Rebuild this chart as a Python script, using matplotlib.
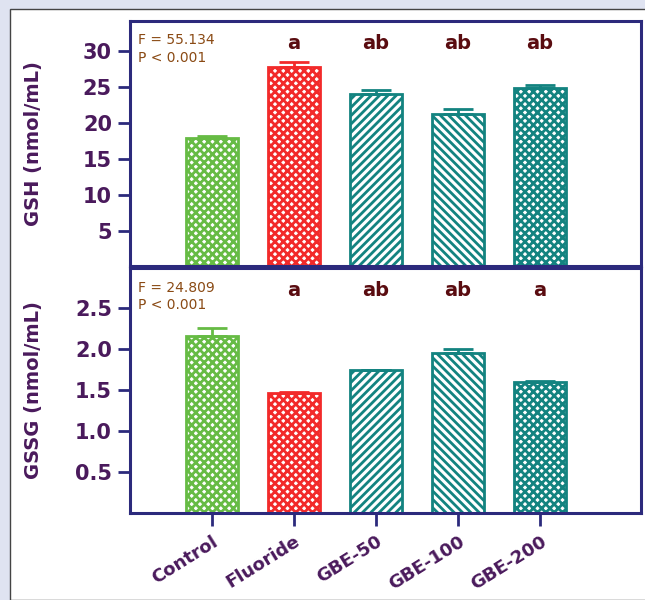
import matplotlib
matplotlib.use("Agg")
import matplotlib.pyplot as plt
from matplotlib.patches import Rectangle
import numpy as np

categories = ["Control", "Fluoride", "GBE-50", "GBE-100", "GBE-200"]
gsh_values = [17.9, 27.7, 24.0, 21.2, 24.8]
gsh_errors = [0.25, 0.7, 0.45, 0.7, 0.45]
gsh_letters = ["", "a", "ab", "ab", "ab"]
gssg_values = [2.16, 1.46, 1.74, 1.95, 1.60]
gssg_errors = [0.10, 0.02, 0.01, 0.05, 0.01]
gssg_letters = ["", "a", "ab", "ab", "a"]
gsh_stats = "F = 55.134\nP < 0.001"
gssg_stats = "F = 24.809\nP < 0.001"
gsh_ticks = [5, 10, 15, 20, 25, 30]
gssg_ticks = [0.5, 1.0, 1.5, 2.0, 2.5]

colors = ["#66bb44", "#f22a2a", "#138380", "#138380", "#138380"]
hatches = ["xxxx", "xxxx", "////", "\\\\\\\\", "xxxx"]

spine_c = "#2c2a7c"
tick_c = "#4a1a5c"
letter_c = "#5a0c10"
stat_c = "#8a4a14"

plt.rcParams["hatch.linewidth"] = 2.0
plt.rcParams["font.family"] = ["DejaVu Sans"]

fig = plt.figure(figsize=(6.45, 6.0), dpi=100, facecolor="#dfe3f1")
bg = Rectangle((10 / 645, 0), 1, 1 - 9 / 600, transform=fig.transFigure,
               facecolor="white", edgecolor="#444444", linewidth=1.0, zorder=-10)
fig.add_artist(bg)

L, R = 130 / 645, 641 / 645
ax1 = fig.add_axes([L, 1 - 266.5 / 600, R - L, (266.5 - 21) / 600])
ax2 = fig.add_axes([L, 1 - 513 / 600, R - L, (513 - 268) / 600])
ax1.set_zorder(1)
ax2.set_zorder(1)

x = np.arange(len(categories))


def draw(ax, vals, errs, letters, stats, ticks, ylim, letter_y, ylabel, fmt):
    ax.set_facecolor("white")
    bars = ax.bar(x, vals, width=0.63, color="white", edgecolor=colors, linewidth=2.0,
                  zorder=2)
    for b, c, h in zip(bars, colors, hatches):
        b.set_hatch(h)
        b.set_edgecolor(c)
    for xi, v, e, c in zip(x, vals, errs, colors):
        ax.errorbar(xi, v, yerr=[[0], [e]], ecolor=c, elinewidth=2.0, capsize=11,
                    capthick=2.0, fmt="none", zorder=3)
    for xi, t in zip(x, letters):
        if t:
            ax.text(xi, letter_y, t, ha="center", va="center", fontsize=14,
                    fontweight="bold", color=letter_c)
    ax.annotate(stats, xy=(0, 1), xycoords="axes fraction", xytext=(6, -9),
                textcoords="offset points", ha="left", va="top", fontsize=10,
                color=stat_c, linespacing=1.35)
    ax.set_xlim(-1.0, 5.23)
    ax.set_ylim(*ylim)
    ax.set_yticks(ticks)
    ax.set_yticklabels([fmt.format(t) for t in ticks], fontweight="bold")
    for s in ax.spines.values():
        s.set_color(spine_c)
        s.set_linewidth(2.2)
    ax.tick_params(axis="y", length=9, width=2.0, color=spine_c, labelcolor=tick_c,
                   labelsize=15, pad=4)
    ax.set_ylabel(ylabel, fontsize=14, color=tick_c, fontweight="bold")
    ax.yaxis.set_label_coords(-0.17, 0.5)


draw(ax1, gsh_values, gsh_errors, gsh_letters, gsh_stats, gsh_ticks, (0, 34.1), 31.0,
     "GSH (nmol/mL)", "{:.0f}")
draw(ax2, gssg_values, gssg_errors, gssg_letters, gssg_stats, gssg_ticks, (0, 2.99), 2.72,
     "GSSG (nmol/mL)", "{:.1f}")

ax1.set_xticks([])
ax2.set_xticks(x)
ax2.set_xticklabels(categories, rotation=32, ha="right", rotation_mode="anchor",
                    fontsize=13, color=tick_c, fontweight="bold")
ax2.tick_params(axis="x", length=9, width=2.0, color=spine_c, pad=5)

fig.savefig("out.png", dpi=100, facecolor=fig.get_facecolor())
